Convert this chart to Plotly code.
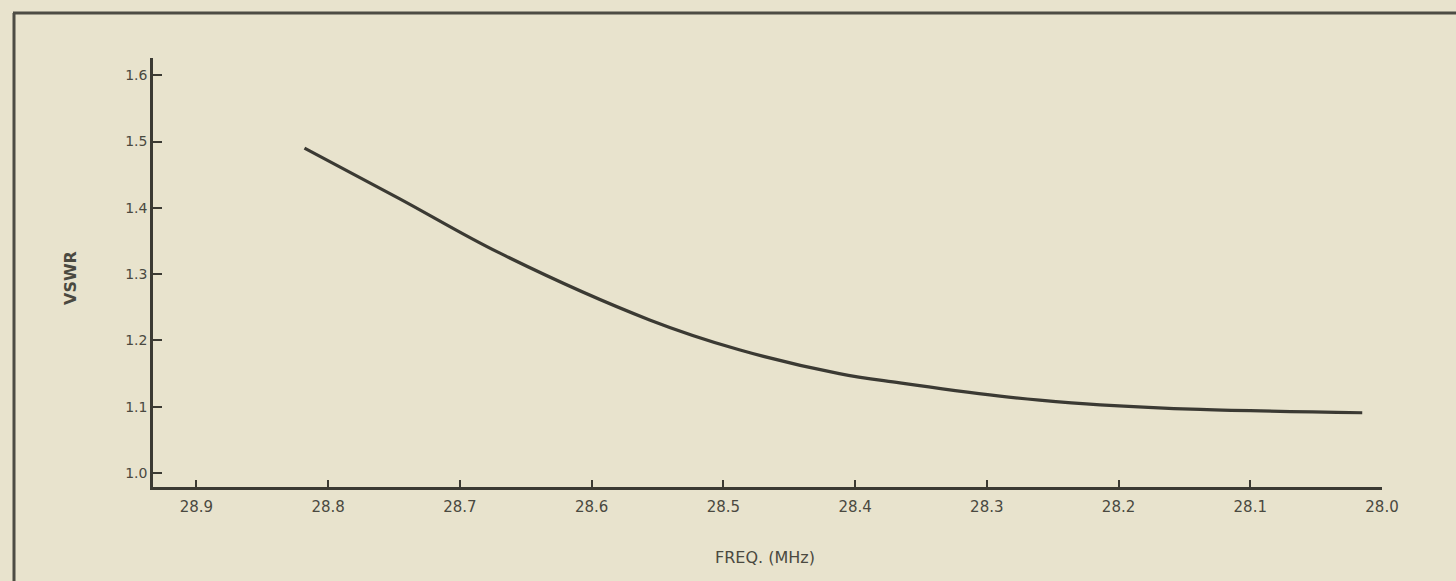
import plotly.graph_objects as go

# Data
freq_mhz = [28.818, 28.746, 28.670, 28.556, 28.488, 28.412, 28.366, 28.290, 28.260, 28.214, 28.138, 28.015]
vswr = [1.490, 1.414, 1.332, 1.231, 1.186, 1.150, 1.136, 1.116, 1.110, 1.103, 1.096, 1.091]

x_ticks = [28.9, 28.8, 28.7, 28.6, 28.5, 28.4, 28.3, 28.2, 28.1, 28.0]
x_ticktext = ["28.9", "28.8", "28.7", "28.6", "28.5", "28.4", "28.3", "28.2", "28.1", "28.0"]
y_ticks = [1.0, 1.1, 1.2, 1.3, 1.4, 1.5, 1.6]
y_ticktext = ["1.0", "1.1", "1.2", "1.3", "1.4", "1.5", "1.6"]

bg = "#e8e3cd"
ink = "#3b3a33"
text_col = "#4a4940"
font_family = "DejaVu Sans, Liberation Sans, sans-serif"

fig = go.Figure()
fig.add_trace(go.Scatter(
    x=freq_mhz, y=vswr, mode="lines",
    line=dict(color=ink, width=3.2, shape="spline", smoothing=1.0),
    hoverinfo="x+y", showlegend=False,
))

W, H = 1456, 581
L, R, T, B = 153, 74, 58, 94
PW, PH = W - L - R, H - T - B

fig.update_layout(
    width=W, height=H,
    margin=dict(l=L, r=R, t=T, b=B, pad=0),
    paper_bgcolor=bg, plot_bgcolor=bg,
    font=dict(family=font_family, size=13, color=text_col),
    xaxis=dict(
        range=[28.933, 28.0], tickvals=x_ticks, ticktext=x_ticktext,
        showgrid=False, zeroline=False, showline=True, linecolor=ink, linewidth=2.5,
        ticks="inside", ticklen=7, tickwidth=1.8, tickcolor=ink,
        ticklabelstandoff=4,
        tickfont=dict(size=15, color=text_col, family=font_family),
    ),
    yaxis=dict(
        range=[0.979, 1.626], tickvals=y_ticks, ticktext=y_ticktext,
        showgrid=False, zeroline=False, showline=True, linecolor=ink, linewidth=2.5,
        ticks="inside", ticklen=9, tickwidth=1.8, tickcolor=ink,
        tickfont=dict(size=14, color=text_col, family=font_family),
    ),
    shapes=[
        dict(type="line", xref="paper", yref="paper",
             x0=-(L - 13) / PW, x1=(W - L) / PW,
             y0=(H - B - 13) / PH, y1=(H - B - 13) / PH,
             line=dict(color="#4d4c44", width=3)),
        dict(type="line", xref="paper", yref="paper",
             x0=-(L - 14) / PW, x1=-(L - 14) / PW,
             y0=-B / PH, y1=(H - B - 13) / PH,
             line=dict(color="#4d4c44", width=3)),
    ],
    annotations=[
        dict(text="VSWR", xref="paper", yref="paper",
             x=-(L - 70) / PW, y=(H - B - 278) / PH,
             textangle=-90, showarrow=False, xanchor="center", yanchor="middle",
             font=dict(size=16, color=text_col, family=font_family, weight="bold")),
        dict(text="FREQ. (MHz)", xref="paper", yref="paper",
             x=(765 - L) / PW, y=-(557 - (H - B)) / PH,
             showarrow=False, xanchor="center", yanchor="middle",
             font=dict(size=16, color=text_col, family=font_family)),
    ],
)

fig.write_html("out.html",
               config={"displayModeBar": False},
               post_script="document.body.style.margin='0px';"
                           "document.body.style.background='#e8e3cd';")
